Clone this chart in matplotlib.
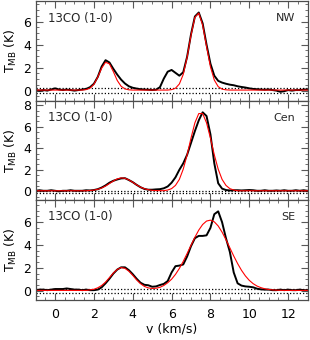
import numpy as np
import matplotlib
matplotlib.use('Agg')
import matplotlib.pyplot as plt
from matplotlib.ticker import MultipleLocator

# velocity channels (km/s), 0.2 km/s spacing from -1 to 13
vel = np.round(np.arange(-1.0, 13.01, 0.2), 1)

regions = ['NW', 'Cen', 'SE']
line_name = '13CO (1-0)'

# observed spectra (K)
obs_nw = [0.05, 0.0, 0.05, 0.0, 0.1, 0.2, 0.1, 0.05, 0.1, 0.05, 0.0, 0.05, 0.1,
          0.15, 0.3, 0.6, 1.2, 2.1, 2.65, 2.45, 1.9, 1.4, 0.96, 0.62, 0.38,
          0.25, 0.18, 0.12, 0.1, 0.08, 0.05, 0.08, 0.3, 1.05, 1.65,
          1.8, 1.55, 1.3, 1.6, 2.95, 4.9, 6.45, 6.8, 5.85, 4.0, 2.35, 1.3, 0.85, 0.7, 0.6,
          0.52, 0.47, 0.38, 0.32, 0.27, 0.2, 0.15, 0.12, 0.1, 0.08, 0.1, 0.05, 0.0,
          -0.1, -0.05, 0.05, 0.0, 0.05, 0.05, 0.1, 0.1]
obs_cen = [0.05, 0.1, 0.05, 0.05, 0.1, 0.05, 0.0, 0.05, 0.05, 0.1, 0.05, 0.05, 0.05, 0.1,
           0.08, 0.12, 0.2, 0.35, 0.55, 0.8, 0.98, 1.1, 1.2, 1.22, 1.05, 0.85, 0.6, 0.38,
           0.22, 0.15, 0.15, 0.18, 0.2, 0.28,
           0.45, 0.8, 1.3, 2.0, 2.6, 3.4, 4.5, 5.6, 6.6, 7.35, 7.0, 5.3, 2.6, 0.75, 0.25,
           0.12, 0.08, 0.1,
           0.1, 0.08, 0.1, 0.12, 0.1, 0.05, 0.05, 0.1, 0.05, 0.05, 0.08, 0.05, 0.1, 0.05,
           0.05, 0.1, 0.05, 0.1, 0.05]
obs_se = [0.05, 0.1, 0.1, 0.05, 0.1, 0.15, 0.15, 0.15, 0.2, 0.15, 0.1, 0.1, 0.05, 0.1,
          0.05, 0.05,
          0.1, 0.3, 0.65, 1.05, 1.5, 1.85, 2.05, 2.05, 1.8, 1.45, 1.05, 0.7, 0.52, 0.48,
          0.35, 0.38, 0.5, 0.6, 0.85, 1.6, 2.15, 2.2, 2.3, 3.0, 3.9, 4.6, 4.8, 4.8, 4.85,
          5.5, 6.7, 6.95, 6.0, 4.6, 3.4, 1.6, 0.65, 0.45, 0.38, 0.35, 0.3, 0.18, 0.12,
          0.1, 0.1, 0.05, 0.05, 0.1, 0.05, 0.1, 0.05, 0.05, 0.1, 0.05, 0.05]

# gaussian fits (K)
fit_nw = [0.05] * 13 + [0.09, 0.22, 0.55, 1.18, 1.96, 2.47, 2.33, 1.66, 0.89, 0.38, 0.15, 0.07] \
    + [0.05] * 10 + [0.09, 0.21, 0.58, 1.41, 2.91, 4.82, 6.38, 6.75, 5.70, 3.85, 2.08, 0.92,
                     0.35, 0.13, 0.07] + [0.05] * 21
fit_cen = [0.05] * 14 + [0.08, 0.11, 0.19, 0.31, 0.49, 0.72, 0.96, 1.15, 1.25, 1.21, 1.06,
                         0.84, 0.60, 0.39, 0.24, 0.15, 0.09, 0.07, 0.06, 0.06] \
    + [0.12, 0.25, 0.55, 1.11, 2.06, 3.39, 4.95, 6.37, 7.23, 7.23, 6.37, 4.95, 3.39, 2.06,
       1.11, 0.55, 0.25, 0.12] + [0.05] * 19
fit_se = [0.03] * 14 + [0.08, 0.13, 0.26, 0.46, 0.76, 1.15, 1.55, 1.86, 2.03, 1.96, 1.71,
                        1.35, 0.95, 0.62, 0.38, 0.25, 0.20, 0.22, 0.30, 0.46, 0.70, 1.01,
                        1.43, 1.95, 2.57, 3.26, 3.98, 4.68, 5.31, 5.80, 6.10, 6.18, 6.03,
                        5.67, 5.13, 4.47, 3.76, 3.04, 2.38, 1.79, 1.30, 0.91, 0.62, 0.41,
                        0.27, 0.17, 0.11, 0.07, 0.05, 0.04] + [0.03] * 7

obs = [obs_nw, obs_cen, obs_se]
fits = [fit_nw, fit_cen, fit_se]
noise = [(-0.22, 0.27), (-0.12, 0.06), (-0.2, 0.16)]
ylims = [(-0.9, 7.8), (-0.8, 8.4), (-0.8, 7.95)]
yticks = [[0, 2, 4, 6], [0, 2, 4, 6, 8], [0, 2, 4, 6]]

plt.rcParams['font.family'] = 'DejaVu Sans'
plt.rcParams['font.size'] = 9

fig = plt.figure(figsize=(3.1, 3.4), dpi=100)
boxes = [(0.703, 0.997), (0.412, 0.703), (0.118, 0.412)]
left, right = 0.115, 0.992

for i in range(3):
    b, t = boxes[i]
    ax = fig.add_axes([left, b, right - left, t - b])
    for lv in noise[i]:
        ax.axhline(lv, color='black', linestyle=(0, (1, 1.6)), linewidth=0.9)
    ax.plot(vel, obs[i], color='black', linewidth=1.4)
    ax.plot(vel, fits[i], color='red', linewidth=0.8)
    ax.set_xlim(-1, 13)
    ax.set_ylim(*ylims[i])
    ax.set_yticks(yticks[i])
    ax.xaxis.set_major_locator(MultipleLocator(2))
    ax.xaxis.set_minor_locator(MultipleLocator(0.5))
    ax.yaxis.set_minor_locator(MultipleLocator(0.5))
    ax.tick_params(which='both', direction='in', top=True, right=True, color='0.35')
    ax.tick_params(which='major', length=5, width=0.8, labelsize=9)
    ax.tick_params(which='minor', length=2.5, width=0.6)
    ax.tick_params(axis='x', which='major', pad=6)
    for s in ax.spines.values():
        s.set_linewidth(0.9)
        s.set_color('0.3')
    ax.set_ylabel(r'T$_{\rm MB}$ (K)', fontsize=9, labelpad=3)
    ax.text(0.045, 0.83, line_name, transform=ax.transAxes, fontsize=8.5,
            va='center', ha='left', color='0.15')
    ax.text(0.955, 0.83, regions[i], transform=ax.transAxes, fontsize=8,
            va='center', ha='right', color='0.15')
    if i < 2:
        ax.set_xticklabels([])
    else:
        ax.set_xlabel('v (km/s)', fontsize=9, labelpad=1)

fig.savefig('out.png', dpi=100)
